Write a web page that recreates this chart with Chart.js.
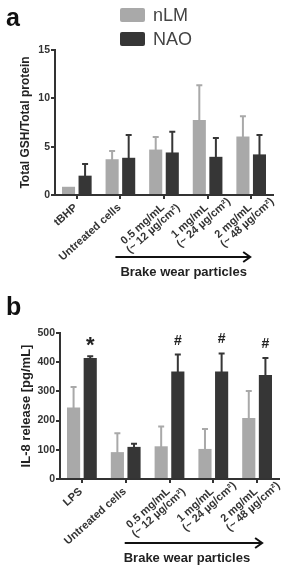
<!DOCTYPE html>
<html><head><meta charset="utf-8">
<script src="https://cdn.jsdelivr.net/npm/chart.js@4.4.1/dist/chart.umd.min.js"></script>
<style>
html,body{margin:0;padding:0;background:#fff;overflow:hidden}
#wrap{position:relative;width:289px;height:570px}
.c{position:absolute;left:0;width:289px;height:285px}
</style>
</head><body>
<div id="wrap">
  <div class="c" style="top:0"><canvas id="ca" width="289" height="285"></canvas></div>
  <div class="c" style="top:285px"><canvas id="cb" width="289" height="285"></canvas></div>
</div>
<script>
// ---------- data ----------
const seriesNames = ['nLM', 'NAO'];
const seriesColors = ['#a9a9a9', '#363636'];

const gshCategories = ['tBHP', 'Untreated cells', ['0.5 mg/mL', '(~ 12 µg/cm²)'], ['1 mg/mL', '(~ 24 µg/cm²)'], ['2 mg/mL', '(~ 48 µg/cm²)']];
const gshNLM    = [0.85, 3.7, 4.7, 7.75, 6.05];
const gshNLMErr = [0,    0.85, 1.3, 3.6, 2.1];
const gshNAO    = [2.0,  3.85, 4.4, 3.95, 4.2];
const gshNAOErr = [1.2,  2.35, 2.15, 1.95, 2.0];
const gshTicks  = [0, 5, 10, 15];

const il8Categories = ['LPS', 'Untreated cells', ['0.5 mg/mL', '(~ 12 µg/cm²)'], ['1 mg/mL', '(~ 24 µg/cm²)'], ['2 mg/mL', '(~ 48 µg/cm²)']];
const il8NLM    = [245, 92, 112, 103, 209];
const il8NLMErr = [70, 65, 68, 68, 92];
const il8NAO    = [414, 110, 368, 368, 356];
const il8NAOErr = [6, 11, 58, 62, 58];
const il8Ticks  = [0, 100, 200, 300, 400, 500];
const il8Marks  = ['*', '', '#', '#', '#'];

const groupLabel = 'Brake wear particles';

// ---------- style ----------
const FONT = '"Liberation Sans", Arial, sans-serif';
const AX = '#333333';

const errorBars = {
  id: 'errorBars',
  afterDatasetsDraw(chart) {
    const ctx = chart.ctx, ys = chart.scales.y;
    ctx.save();
    ctx.lineWidth = 2;
    chart.data.datasets.forEach((ds, i) => {
      const meta = chart.getDatasetMeta(i);
      ctx.strokeStyle = ds.backgroundColor;
      meta.data.forEach((el, j) => {
        const e = ds.errors[j];
        if (!e) return;
        const top = ys.getPixelForValue(ds.data[j] + e);
        ctx.beginPath();
        ctx.moveTo(el.x, el.y + 1);
        ctx.lineTo(el.x, top);
        ctx.moveTo(el.x - 3, top);
        ctx.lineTo(el.x + 3, top);
        ctx.stroke();
        if (ds.marks && ds.marks[j]) {
          const s = ds.marks[j];
          ctx.fillStyle = '#222';
          ctx.font = (s === '*' ? 'bold 22px ' : 'bold 14px ') + FONT;
          ctx.textAlign = 'center';
          ctx.textBaseline = 'alphabetic';
          const m = ctx.measureText(s);
          const cy = top - 15;
          ctx.fillText(s, el.x, cy + (m.actualBoundingBoxAscent - m.actualBoundingBoxDescent) / 2);
        }
      });
    });
    ctx.restore();
  }
};

const decorations = {
  id: 'decorations',
  afterDraw(chart, args, o) {
    const ctx = chart.ctx, xs = chart.scales.x;
    ctx.save();
    // rotated multi-line category labels
    ctx.font = 'bold 11px ' + FONT;
    ctx.fillStyle = AX;
    const ang = -42 * Math.PI / 180;
    chart.data.labels.forEach((lab, i) => {
      const lines = Array.isArray(lab) ? lab : [lab];
      const x = xs.getPixelForValue(i) - 1;
      const y = xs.top + 11;
      ctx.save();
      ctx.translate(x, y);
      ctx.rotate(ang);
      ctx.textBaseline = 'middle';
      ctx.textAlign = 'left';
      const w0 = ctx.measureText(lines[0]).width;
      lines.forEach((ln, k) => ctx.fillText(ln, -w0 - 2 * k, k * 10.5));
      ctx.restore();
    });
    // arrow
    const x0 = xs.getPixelForValue(1) + o.arrowStart;
    const x1 = xs.getPixelForValue(4) + o.arrowEnd;
    const ay = xs.top + o.arrowY;
    ctx.strokeStyle = '#111';
    ctx.lineWidth = 2;
    ctx.beginPath();
    ctx.moveTo(x0, ay); ctx.lineTo(x1, ay);
    ctx.moveTo(x1 - 7, ay - 5); ctx.lineTo(x1, ay); ctx.lineTo(x1 - 7, ay + 5);
    ctx.stroke();
    ctx.fillStyle = '#222';
    ctx.font = 'bold 13px ' + FONT;
    ctx.textAlign = 'left';
    ctx.textBaseline = 'middle';
    ctx.fillText(groupLabel, x0 + o.textDx, ay + 15);
    // panel letter
    ctx.font = 'bold 25px ' + FONT;
    ctx.textBaseline = 'alphabetic';
    ctx.fillStyle = '#111';
    ctx.fillText(o.letter, 6, o.letterY);
    // legend
    if (o.legend) {
      chart.data.datasets.forEach((ds, i) => {
        const y = 8 + i * 24;
        ctx.fillStyle = ds.backgroundColor;
        ctx.beginPath();
        if (ctx.roundRect) ctx.roundRect(120, y, 25, 14, 2); else ctx.rect(120, y, 25, 14);
        ctx.fill();
        ctx.fillStyle = '#444';
        ctx.font = '18px ' + FONT;
        ctx.textBaseline = 'middle';
        ctx.fillText(ds.label, 153, y + 8);
      });
    }
    ctx.restore();
  }
};

function makeChart(id, cats, d1, e1, d2, e2, marks, ticks, title, geo) {
  return new Chart(document.getElementById(id), {
    type: 'bar',
    data: {
      labels: cats,
      datasets: [
        { label: seriesNames[0], data: d1, errors: e1, backgroundColor: seriesColors[0], borderWidth: 0,
          categoryPercentage: 0.76, barPercentage: 0.79 },
        { label: seriesNames[1], data: d2, errors: e2, marks: marks, backgroundColor: seriesColors[1], borderWidth: 0,
          categoryPercentage: 0.76, barPercentage: 0.79 }
      ]
    },
    options: {
      responsive: false,
      animation: false,
      devicePixelRatio: 1,
      layout: { padding: { top: geo.top, left: geo.padLeft, right: 289 - geo.right, bottom: 0 } },
      plugins: { legend: { display: false }, tooltip: { enabled: false }, decorations: geo.deco },
      scales: {
        x: {
          offset: true,
          grid: { offset: false, drawOnChartArea: false, drawTicks: true, tickLength: 4, color: AX, lineWidth: 2 },
          border: { display: true, color: AX, width: 2 },
          ticks: { display: false },
          afterFit: s => { s.height = 285 - geo.bottom; }
        },
        y: {
          min: ticks[0], max: ticks[ticks.length - 1],
          afterBuildTicks: s => { s.ticks = ticks.map(v => ({ value: v })); },
          grid: { drawOnChartArea: false, drawTicks: true, tickLength: 4, color: AX, lineWidth: 2 },
          border: { display: true, color: AX, width: 2 },
          ticks: { font: { family: FONT, size: 10.5, weight: 'bold' }, color: AX, padding: 1 },
          title: { display: true, text: title, color: '#222', padding: 0,
                   font: { family: FONT, size: geo.titleSize, weight: 'bold' } },
          afterFit: s => { s.width = geo.left - geo.padLeft; }
        }
      }
    },
    plugins: [errorBars, decorations]
  });
}

makeChart('ca', gshCategories, gshNLM, gshNLMErr, gshNAO, gshNAOErr, null, gshTicks,
  'Total GSH/Total protein',
  { top: 50, bottom: 195, left: 55, right: 273, padLeft: 18, titleSize: 12,
    deco: { arrowStart: -5, arrowEnd: -1, arrowY: 62, textDx: 5, letter: 'a', letterY: 26, legend: true } });

makeChart('cb', il8Categories, il8NLM, il8NLMErr, il8NAO, il8NAOErr, il8Marks, il8Ticks,
  'IL-8 release [pg/mL]',
  { top: 48, bottom: 194, left: 60, right: 279, padLeft: 19, titleSize: 13,
    deco: { arrowStart: -1, arrowEnd: 5, arrowY: 64, textDx: -1, letter: 'b', letterY: 30, legend: false } });
</script>
</body></html>
